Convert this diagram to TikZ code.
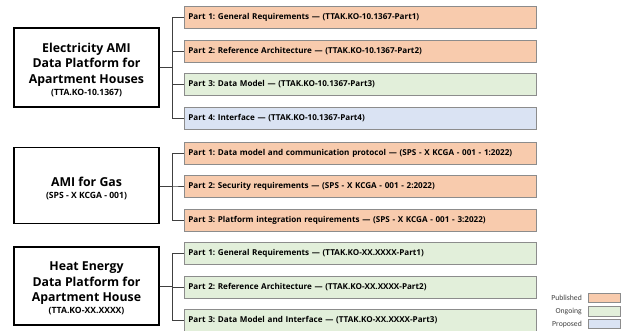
\documentclass[tikz,border=0pt]{standalone}
\usepackage{fontspec}
\setmainfont{Open Sans}
\newfontfamily\legendfont{Carlito}
\definecolor{pub}{HTML}{F8CBAD}
\definecolor{ong}{HTML}{E2EFDA}
\definecolor{prop}{HTML}{DAE3F3}
\definecolor{partborder}{HTML}{8C8C8C}
\definecolor{linkcol}{HTML}{404040}
\frenchspacing
\begin{document}
\begin{tikzpicture}[x=1pt,y=-1pt,
  mainbox/.style={draw=black, line width=1.3pt, minimum width=145pt, minimum height=79pt, inner sep=0pt},
  title/.style={align=center, inner sep=0pt, font=\bfseries\fontsize{12.3}{15.5}\selectfont},
  part/.style={draw=partborder, line width=0.8pt, anchor=west, minimum height=22pt, text width=344pt, inner xsep=4pt, inner ysep=0pt, align=left,
    font=\bfseries\fontsize{8.1}{9}\selectfont},
  link/.style={draw=linkcol, line width=0.9pt},
  legtext/.style={anchor=east, font=\legendfont\fontsize{7.7}{8}\selectfont, inner sep=0pt, text=black!75},
  legbox/.style={draw=partborder, line width=0.6pt, minimum width=32pt, minimum height=9.5pt, inner sep=0pt}
]
\useasboundingbox (0,0) rectangle (623,331);
\newcommand{\subt}[1]{\\[-3.5pt]{\fontsize{8.6}{10}\selectfont #1}}

\node[mainbox] (m1) at (86.5,67.5) {};
\node[mainbox, minimum height=76pt] (m2) at (86.5,185.5) {};
\node[mainbox, minimum height=78pt] (m3) at (86.5,286) {};
\node[title] (t1) at ([yshift=-2.5pt]m1.center) {Electricity AMI\\Data Platform for\\Apartment Houses\subt{(TTA.KO-10.1367)}};
\node[title] (t2) at ([yshift=-3pt]m2.center) {AMI for Gas\subt{(SPS - X KCGA - 001)}};
\node[title] (t3) at ([yshift=-2.5pt]m3.center) {Heat Energy\\Data Platform for\\Apartment House\subt{(TTA.KO-XX.XXXX)}};

\node[part, fill=pub]  (a1) at (184,17)    {Part 1: General Requirements — (TTAK.KO-10.1367-Part1)};
\node[part, fill=pub]  (a2) at (184,51.5)  {Part 2: Reference Architecture — (TTAK.KO-10.1367-Part2)};
\node[part, fill=ong]  (a3) at (184,84.5)  {Part 3: Data Model — (TTAK.KO-10.1367-Part3)};
\node[part, fill=prop] (a4) at (184,118.5) {Part 4: Interface — (TTAK.KO-10.1367-Part4)};

\node[part, fill=pub]  (b1) at (184,153)   {Part 1: Data model and communication protocol — (SPS - X KCGA - 001 - 1:2022)};
\node[part, fill=pub]  (b2) at (184,186)   {Part 2: Security requirements — (SPS - X KCGA - 001 - 2:2022)};
\node[part, fill=pub]  (b3) at (184,220)   {Part 3: Platform integration requirements — (SPS - X KCGA - 001 - 3:2022)};

\node[part, fill=ong]  (c1) at (184,253)   {Part 1: General Requirements — (TTAK.KO-XX.XXXX-Part1)};
\node[part, fill=ong]  (c2) at (184,287)   {Part 2: Reference Architecture — (TTAK.KO-XX.XXXX-Part2)};
\node[part, fill=ong]  (c3) at (184,320)   {Part 3: Data Model and Interface — (TTAK.KO-XX.XXXX-Part3)};

\foreach \c in {a1,a2,a3,a4} \draw[link] (m1.east) -- ++(13,0) |- (\c.west);
\foreach \c in {b1,b2,b3} \draw[link] (m2.east |- b2.west) -- ++(13,0) |- (\c.west);
\foreach \c in {c1,c2,c3} \draw[link] (m3.east) -- ++(13,0) |- (\c.west);

\node[legtext] (lt1) at (582,298) {Published};
\node[legtext] (lt2) at (582,311.5) {Ongoing};
\node[legtext] (lt3) at (582,324) {Proposed};
\node[legbox, fill=pub]  (lb1) at (604,298) {};
\node[legbox, fill=ong]  (lb2) at (604,311.5) {};
\node[legbox, fill=prop] (lb3) at (604,324) {};
\end{tikzpicture}
\end{document}
